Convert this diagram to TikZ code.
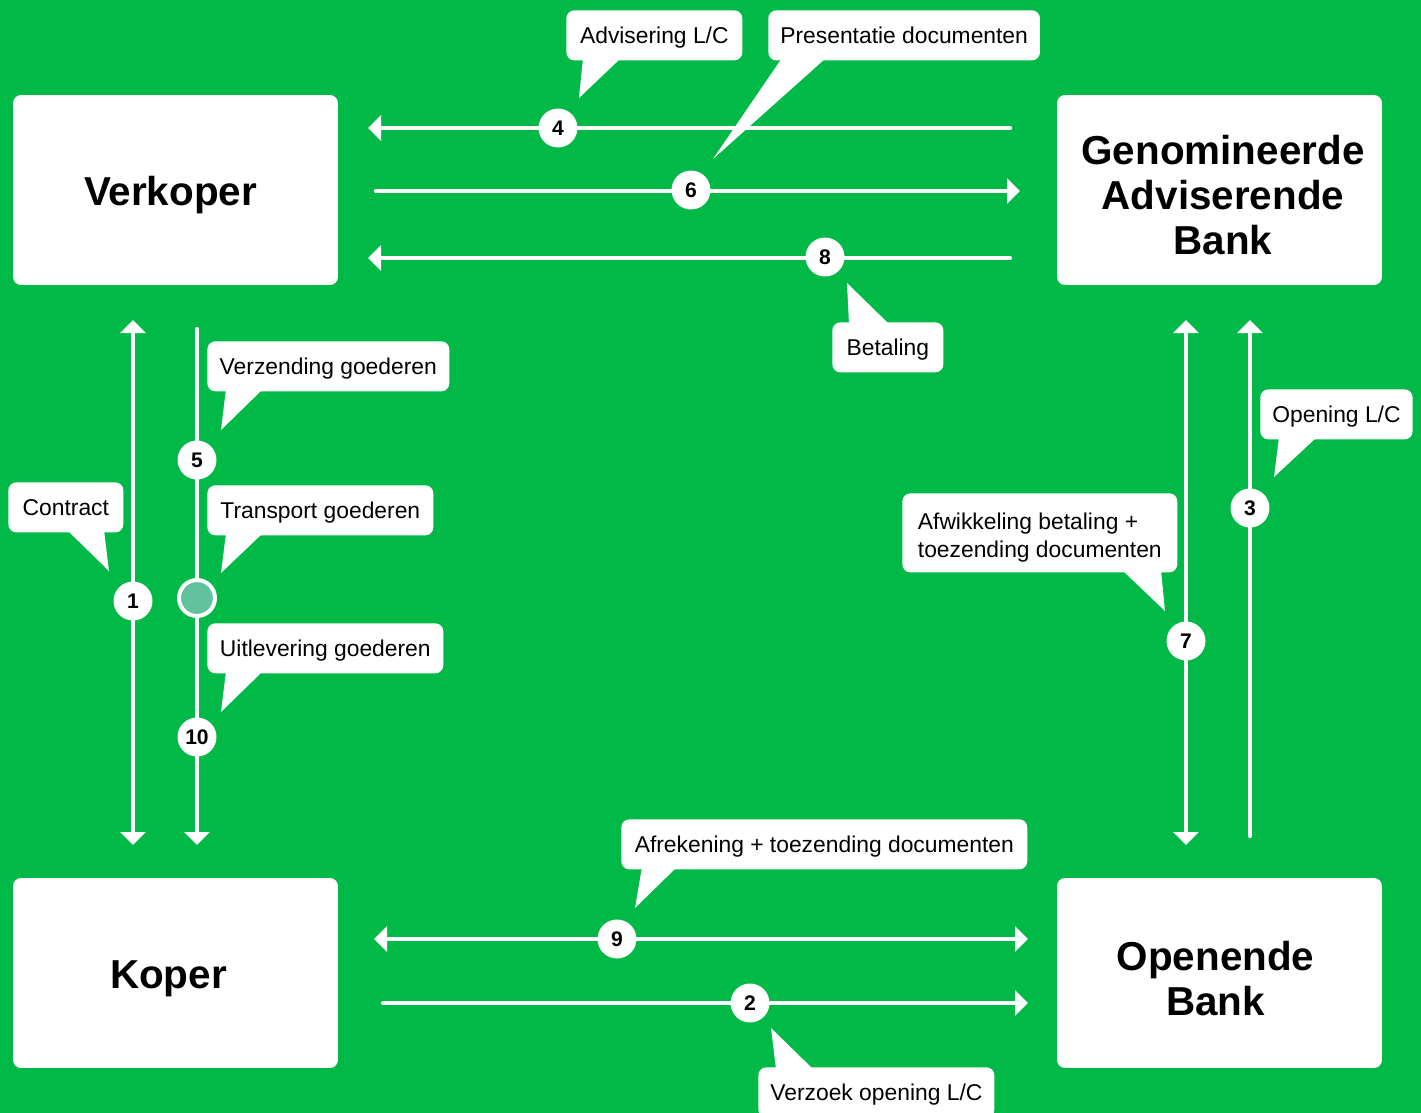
\documentclass[tikz,border=0pt]{standalone}
\usepackage{fontspec}
\setmainfont{Liberation Sans}
\usetikzlibrary{arrows.meta}
\definecolor{lcgreen}{RGB}{0,185,70}
\definecolor{shipteal}{RGB}{98,194,158}
\tikzset{flow/.style={draw=white, line width=0.085cm, line cap=round}}
\tikzset{num/.style={circle, fill=white, minimum size=0.78cm, inner sep=0pt, font=\fontsize{12}{12}\selectfont\bfseries}}
\tikzset{tail/.style={fill=white}}

\begin{document}
\begin{tikzpicture}[
  x=0.02cm, y=-0.02cm,
  >={Triangle[width=0.5cm,length=0.26cm]},
  party/.style={fill=white, rounded corners=0.16cm, minimum width=6.5cm, minimum height=3.8cm},
  partytext/.style={align=center, yshift=-0.11cm, font=\fontsize{23}{25.6}\selectfont\bfseries},
  callout/.style={fill=white, rounded corners=0.16cm, minimum height=1cm, inner xsep=0.24cm,
                  anchor=north west, font=\fontsize{13}{16}\selectfont},
  bubble/.style={callout, text height=9.6pt, text depth=0pt},
  ship/.style={circle, fill=shipteal, draw=white, line width=0.08cm, minimum size=0.72cm, inner sep=0pt}
]
  \useasboundingbox (0,0) rectangle (1421,1113);
  \fill[lcgreen] (0,0) rectangle (1421,1113);

  % parties
  \node[party] (verkoper) at (175.5,190) {};
  \node[partytext] (verkoperT) at ([xshift=-0.1cm]verkoper.center) {Verkoper};
  \node[party] (genom) at (1219.5,190) {};
  \node[partytext] (genomT) at ([xshift=0.07cm]genom.center) {Genomineerde\\Adviserende\\Bank};
  \node[party] (koper) at (175.5,973) {};
  \node[partytext] (koperT) at ([xshift=-0.14cm]koper.center) {Koper};
  \node[party] (opend) at (1219.5,973) {};
  \node[partytext] (opendT) at ([xshift=-0.08cm]opend.center) {Openende\\Bank};

  % line ends
  \coordinate (l4a) at (1010,128);  \coordinate (l4b) at (368,128);
  \coordinate (l6a) at (376,191);   \coordinate (l6b) at (1020,191);
  \coordinate (l8a) at (1010,258);  \coordinate (l8b) at (368,258);
  \coordinate (l9a) at (374,939);   \coordinate (l9b) at (1028,939);
  \coordinate (l2a) at (383,1003);  \coordinate (l2b) at (1028,1003);
  \coordinate (l1a) at (133,320);   \coordinate (l1b) at (133,845);
  \coordinate (l5a) at (197,329);   \coordinate (l5b) at (197,845);
  \coordinate (l7a) at (1186,320);  \coordinate (l7b) at (1186,845);
  \coordinate (l3a) at (1250,836);  \coordinate (l3b) at (1250,320);

  \draw[flow, ->] (l4a) -- (l4b);
  \draw[flow, ->] (l6a) -- (l6b);
  \draw[flow, ->] (l8a) -- (l8b);
  \draw[flow, <->] (l9a) -- (l9b);
  \draw[flow, ->] (l2a) -- (l2b);
  \draw[flow, <->] (l1a) -- (l1b);
  \draw[flow, ->] (l5a) -- (l5b);
  \draw[flow, <->] (l7a) -- (l7b);
  \draw[flow, ->] (l3a) -- (l3b);

  % step numbers
  \foreach \n/\x/\y in {1/133/601, 2/750/1003, 3/1250/508, 4/558/128, 5/197/460,
                        6/691/190, 7/1186/641, 8/825/257, 9/617/939, 10/197/737}
    \node[num] (n\n) at (\x,\y) {\n};
  \node[ship] (transp) at (197,598) {};

  % callouts
  \fill[tail] (583,58) -- (579,98) -- (621,58) -- cycle;
  \node[bubble, minimum width=3.52cm] (advis) at (566,10) {Advisering L/C};
  \fill[tail] (782,58) -- (713,159) -- (826,58) -- cycle;
  \node[bubble, minimum width=5.42cm] (present) at (768,10) {Presentatie documenten};
  \fill[tail] (849,324) -- (847,283) -- (889,324) -- cycle;
  \node[bubble, minimum width=2.22cm] (betal) at (832,322) {Betaling};
  \fill[tail] (1279,437) -- (1274,477) -- (1317,437) -- cycle;
  \node[bubble, minimum width=3.0cm] (opening) at (1260,389) {Opening L/C};
  \fill[tail] (1122,570) -- (1165,611) -- (1161,570) -- cycle;
  \node[callout, minimum width=5.5cm, minimum height=1.58cm] (afwik) at (902,493) {};
  \node[align=left, yshift=-0.09cm, font=\fontsize{13}{16}\selectfont] (afwikT) at (afwik.center)
    {Afwikkeling betaling +\\toezending documenten};
  \fill[tail] (226,389) -- (221,430) -- (263,389) -- cycle;
  \node[bubble, minimum width=4.84cm] (verzend) at (207,341) {Verzending goederen};
  \fill[tail] (226,533) -- (221,573) -- (263,533) -- cycle;
  \node[bubble, minimum width=4.52cm] (transport) at (207,485) {Transport goederen};
  \fill[tail] (226,671) -- (221,712) -- (263,671) -- cycle;
  \node[bubble, minimum width=4.72cm] (uitlev) at (207,623) {Uitlevering goederen};
  \fill[tail] (67,530) -- (109,571) -- (104,530) -- cycle;
  \node[bubble, minimum width=2.3cm] (contract) at (8,482) {Contract};
  \fill[tail] (642,867) -- (635,908) -- (677,867) -- cycle;
  \node[bubble, minimum width=8.12cm] (afrek) at (621,819) {Afrekening + toezending documenten};
  \fill[tail] (776,1069) -- (771,1028) -- (813,1069) -- cycle;
  \node[bubble, minimum width=4.68cm] (verzoek) at (758,1067) {Verzoek opening L/C};
\end{tikzpicture}
\end{document}
